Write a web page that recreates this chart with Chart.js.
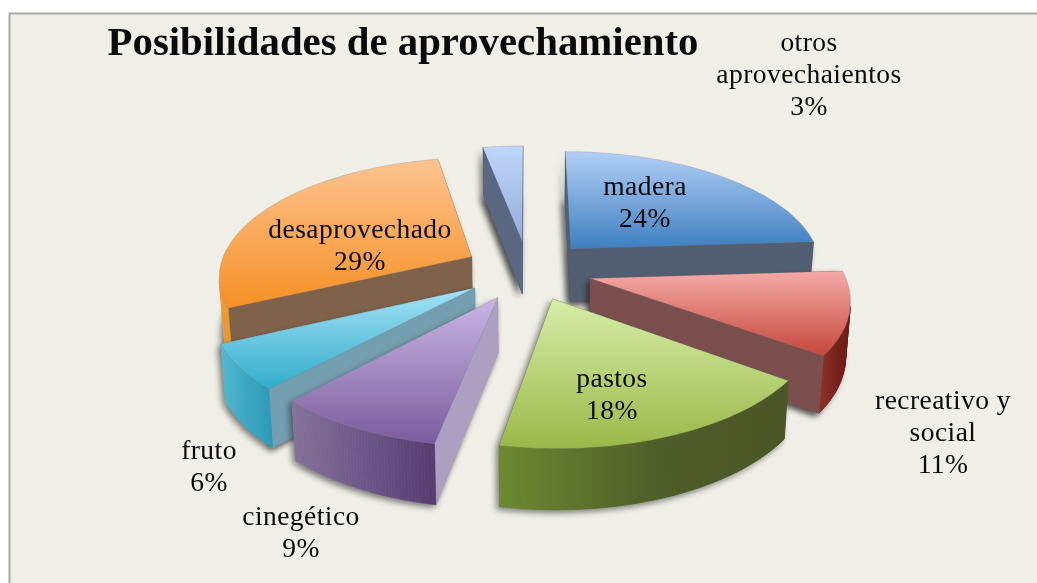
<!DOCTYPE html>
<html><head><meta charset="utf-8">
<style>html,body{margin:0;padding:0;background:#fff}canvas{display:block}</style>
<script src="https://cdn.jsdelivr.net/npm/chart.js@4"></script>
</head><body><canvas id="c" width="1037" height="583"></canvas>
<script>
const categories = ['madera','recreativo y social','pastos','cinegético','fruto','desaprovechado','otros aprovechaientos'];
const values = [24,11,18,9,6,29,3];
const labelLines = [['madera'],['recreativo y','social'],['pastos'],['cinegético'],['fruto'],['desaprovechado'],['otros','aprovechaientos']];
const titleText = 'Posibilidades de aprovechamiento';

const labelAnchors = [[645,195],[943,409],[612,387],[301,525],[209,459],[360,238],[809,51]];
const topLight = ['#b2cff6','#f6aaa6','#d6eda8','#cab6e4','#a4e2f6','#fdc390','#bfd6fa'];
const topDark  = ['#3e7fc0','#c4473c','#9ab848','#7a5c9e','#32accb','#f59025','#92aedb'];
const radialWall = ['#525f73','#7a4f4e','#55652f','#ad9fc1','#739eaf','#80624a','#5a6780'];
const outerA = ['#3f6da0','#8a2e24','#6d8a32','#857299','#55b8d2','#ee9a35','#5a6780'];
const outerB = ['#3a6595','#6a1c15','#4a5625','#573c6f','#2e9cb8','#e58a1e','#5a6780'];
const outerMid = ['#3c6a9a','#741f18','#4f5d28','#6b5486','#3aa7c3','#ea9028','#5a6780'];

const view = {scaleX:1.055, scaleY:0.491, persp:0.15/239.5, wallA:20, wallB:33.6, shrink:0.985};

function project(cx,cy,x,y){
  const w = 1 - view.persp*y;
  return {sx:cx+view.scaleX*x/w, sy:cy+view.scaleY*y/w, w};
}
function lower(cx,p){
  return {sx:cx+(p.sx-cx)*view.shrink, sy:p.sy+view.wallA+view.wallB/p.w};
}
function shoelace(q){let a=0;for(let i=0;i<q.length;i++){const n=q[(i+1)%q.length];a+=q[i].sx*n.sy-n.sx*q[i].sy;}return a;}
function path(ctx,q){ctx.beginPath();q.forEach((p,i)=>i?ctx.lineTo(p.sx,p.sy):ctx.moveTo(p.sx,p.sy));ctx.closePath();}

const pie3d = {
  id:'pie3d',
  beforeDraw(chart){
    const {ctx,width,height}=chart;
    ctx.save();
    ctx.fillStyle='#efefe7';
    ctx.fillRect(9,13,width,height);
    ctx.strokeStyle='#a9a9a9';
    ctx.lineWidth=2;
    ctx.strokeRect(9.5,13.5,width+20,height+20);
    ctx.restore();
  },
  beforeDatasetDraw(chart){
    const ctx=chart.ctx;
    const arcs=chart.getDatasetMeta(0).data;
    const order=arcs.map((a,i)=>i).sort((p,q)=>{
      const m=a=>Math.sin((a.startAngle+a.endAngle)/2);
      return m(arcs[p])-m(arcs[q]);
    });
    ctx.save();
    order.forEach(i=>{
      const a=arcs[i], R=a.outerRadius, off=a.options.offset;
      const mid=(a.startAngle+a.endAngle)/2;
      const ox=Math.cos(mid)*off, oy=Math.sin(mid)*off;
      const N=48, rim=[];
      for(let k=0;k<=N;k++){
        const t=a.startAngle+(a.endAngle-a.startAngle)*k/N;
        rim.push(project(a.x,a.y,ox+R*Math.cos(t),oy+R*Math.sin(t)));
      }
      const apex=project(a.x,a.y,ox,oy);
      const poly=[apex,...rim];
      const low=poly.map(p=>lower(a.x,p));
      ctx.save();
      ctx.shadowColor='rgba(40,40,40,0.6)';ctx.shadowBlur=6;ctx.shadowOffsetX=-3;ctx.shadowOffsetY=3;
      ctx.fillStyle=radialWall[i];
      path(ctx,low);ctx.fill();
      path(ctx,[apex,rim[0],low[1],low[0]]);ctx.fill();
      path(ctx,[rim[N],apex,low[0],low[N+1]]);ctx.fill();
      ctx.restore();
      const minX=Math.min(...rim.map(p=>p.sx)),maxX=Math.max(...rim.map(p=>p.sx));
      const grad=ctx.createLinearGradient(minX,0,maxX,0);
      grad.addColorStop(0,outerA[i]);grad.addColorStop(0.55,outerMid[i]);grad.addColorStop(1,outerB[i]);
      const n=poly.length;
      for(let e=0;e<n;e++){
        const f=(e+1)%n;
        const quad=[poly[e],poly[f],low[f],low[e]];
        if(shoelace(quad)>=0) continue;
        const radial=(e===0||f===0);
        const col=radial?radialWall[i]:grad;
        ctx.fillStyle=col;ctx.strokeStyle=col;ctx.lineWidth=0.6;
        path(ctx,quad);ctx.fill();ctx.stroke();
      }
      const ys=poly.map(p=>p.sy);
      const g=ctx.createLinearGradient(0,Math.min(...ys),0,Math.max(...ys));
      g.addColorStop(0,topLight[i]);g.addColorStop(1,topDark[i]);
      ctx.fillStyle=g;
      path(ctx,poly);ctx.fill();
      ctx.strokeStyle='rgba(120,120,120,0.35)';ctx.lineWidth=0.7;
      ctx.stroke();
    });
    ctx.restore();
    return false;
  },
  afterDatasetsDraw(chart){
    const ctx=chart.ctx;
    ctx.save();
    ctx.fillStyle='#0a0a0a';
    ctx.textAlign='center';ctx.textBaseline='alphabetic';
    ctx.font='bold 40.8px "Liberation Serif"';
    ctx.fillText(titleText,403,55);
    ctx.font='27.5px "Liberation Serif"';
    ctx.letterSpacing='0.45px';
    labelLines.forEach((lines,i)=>{
      const [x,y]=labelAnchors[i];
      const all=[...lines,values[i]+'%'];
      all.forEach((t,j)=>ctx.fillText(t,x,y+j*32));
    });
    ctx.restore();
  }
};

new Chart(document.getElementById('c'),{
  type:'pie',
  data:{labels:categories,datasets:[{data:values,backgroundColor:topDark,borderWidth:0,offset:61}]},
  options:{
    responsive:false,animation:false,
    layout:{padding:{left:19,right:0,top:0,bottom:43}},
    plugins:{legend:{display:false},tooltip:{enabled:false},title:{display:false}}
  },
  plugins:[pie3d]
});
</script></body></html>
